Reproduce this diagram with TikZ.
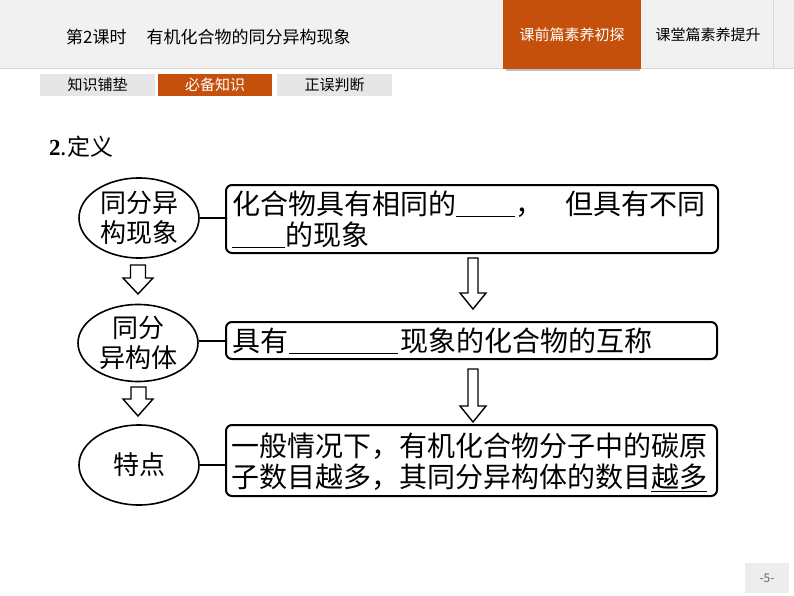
\documentclass[tikz,border=0pt]{standalone}
\usepackage{fontspec}
\setmainfont{Noto Sans CJK SC}
\newfontfamily\timesf{Liberation Serif}
\usetikzlibrary{shapes.geometric}
\definecolor{orng}{RGB}{196,80,12}
\definecolor{hdrgray}{RGB}{241,241,241}
\definecolor{tabgray}{RGB}{230,230,230}
\definecolor{linegray}{RGB}{215,215,215}
\begin{document}
\begin{tikzpicture}[x=1pt,y=-1pt,
  ell/.style={draw,line width=1.6pt,ellipse,minimum width=120pt,minimum height=80pt,inner sep=0pt,align=center,font=\fontsize{26}{30}\selectfont},
  defbox/.style={draw,line width=2pt,rounded corners=6pt},
  btext/.style={anchor=west,inner sep=0pt,font=\fontsize{28}{30}\selectfont},
  link/.style={line width=1.6pt},
  hollow/.style={draw,line width=1.4pt,fill=white,line join=miter},
  tabtxt/.style={font=\fontsize{15}{18}\selectfont,inner sep=0pt}]
\useasboundingbox (0,0) rectangle (794,596);
\fill[white] (0,0) rectangle (794,596);
% header
\fill[hdrgray] (0,0) rectangle (794,68);
\draw[linegray,line width=0.8pt] (0,68) -- (794,68);
\draw[linegray,line width=0.8pt] (773,0) -- (773,68);
\fill[black!25] (506,68) rectangle (640,71);
\fill[orng] (503,0) rectangle (641,69);
\node[anchor=west,inner sep=0pt,font=\fontsize{17}{20}\selectfont] (title) at (66,37) {第2课时\hspace{20pt}有机化合物的同分异构现象};
\node[tabtxt,text=white] (tabA) at (572,35) {课前篇素养初探};
\node[tabtxt] (tabB) at (708,35) {课堂篇素养提升};
% sub tabs
\fill[tabgray] (40,74) rectangle (155,96);
\fill[orng] (158,74) rectangle (272,96);
\fill[tabgray] (277,74) rectangle (392,96);
\node[tabtxt] (s1) at (97.5,85) {知识铺垫};
\node[tabtxt,text=white] (s2) at (215,85) {必备知识};
\node[tabtxt] (s3) at (334.5,85) {正误判断};
% heading
\node[anchor=west,inner sep=0pt,font=\fontsize{23}{26}\selectfont] (head) at (49,147) {{\timesf\bfseries 2}.定义};
% ellipses
\node[ell] (e1) at (139,218) {同分异\\构现象};
\node[ell,minimum height=77pt] (e2) at (138,343) {同分\\异构体};
\node[ell] (e3) at (139,465) {特点};
% boxes
\draw[defbox] (226,185) rectangle (718,253);
\coordinate (b1w) at (226,218);
\node[btext] (t1a) at (232,204) {化合物具有相同的\rule[-3pt]{59pt}{1pt}，\hspace{22pt}但具有不同};
\node[btext] (t1b) at (232,235) {\rule[-3pt]{53pt}{1pt}的现象};
\draw[defbox] (226,322) rectangle (717,359);
\coordinate (b2w) at (226,341);
\node[btext] (t2) at (232,341) {具有\hspace{1pt}\rule[-3pt]{109pt}{1pt}\hspace{2pt}现象的化合物的互称};
\draw[defbox] (226,425) rectangle (717,496);
\coordinate (b3w) at (226,465);
\node[btext] (t3a) at (231,446) {一般情况下，有机化合物分子中的碳原};
\node[btext] (t3b) at (231,478) {子数目越多，其同分异构体的数目\underline{越多}};
% links
\draw[link] (e1.east) -- (b1w);
\draw[link] (b2w -| e2.east) -- (b2w);
\draw[link] (e3.east) -- (b3w);
% hollow arrows
\draw[hollow] (130.5,265) -- (145.5,265) -- (145.5,278) -- (153,278) -- (138,294) -- (123,278) -- (130.5,278) -- cycle;
\draw[hollow] (131,387) -- (146,387) -- (146,399) -- (153,399) -- (138,416) -- (123,399) -- (131,399) -- cycle;
\draw[hollow] (468,258) -- (478,258) -- (478,293) -- (486,293) -- (473,309) -- (460,293) -- (468,293) -- cycle;
\draw[hollow] (468,369) -- (478,369) -- (478,406) -- (486,406) -- (473,422) -- (460,406) -- (468,406) -- cycle;
% page number
\fill[black!7] (745,563) rectangle (789,593);
\node[font=\fontsize{12}{14}\selectfont,text=black!60] (pg) at (767,578) {-5-};
\end{tikzpicture}
\end{document}
